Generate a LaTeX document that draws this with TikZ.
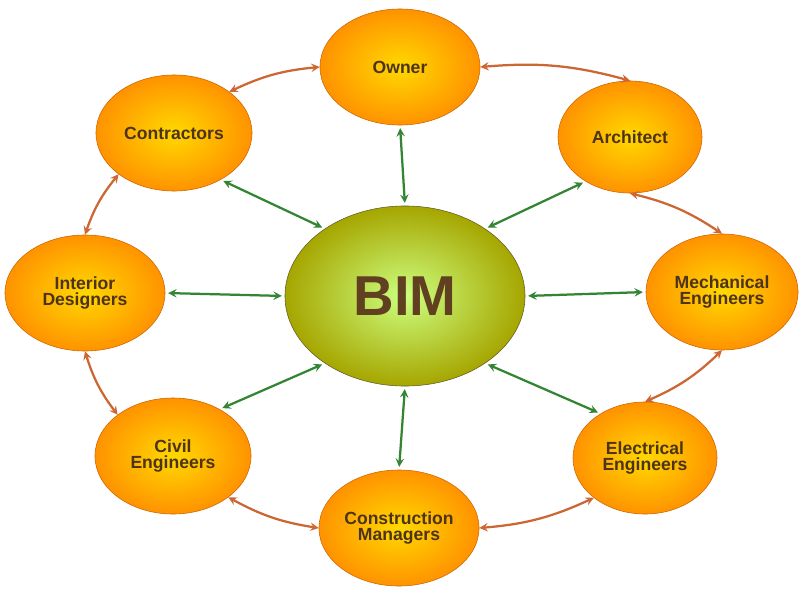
\documentclass[tikz,border=0pt]{standalone}
\usepackage{fontspec}
\setmainfont{Liberation Sans}
\usetikzlibrary{positioning,shapes,arrows,calc}

\tikzset{
  role/.style={ellipse,shading=radial,inner color=yellow!70!orange,outer color=orange!85!yellow,
    draw=orange!80!black,minimum width=4cm,minimum height=2.9cm,align=center,inner sep=0pt,
    text=brown!40!black,font=\bfseries\fontsize{12.5}{12}\selectfont},
  hub/.style={ellipse,shading=radial,inner color=yellow!60!green!50,outer color=olive!70!yellow,
    draw=olive!60!black,minimum width=6cm,minimum height=4.5cm,
    font=\bfseries\fontsize{40}{40}\selectfont},
  link/.style={<->,>=stealth,line width=1.6pt,green!40!black!80,shorten >=2pt,shorten <=2pt},
  ring/.style={<->,>=stealth,line width=1.6pt,brown!80!red}
}

\begin{document}
\begin{tikzpicture}[x=0.025cm,y=-0.025cm]
\useasboundingbox (0,0) rectangle (800,591);
\fill[white] (0,0) rectangle (800,591);
% centre
\node[hub] (bim) at (405,296) {\textcolor{brown!50!black}{BIM}};
% the ring of roles
\node[role] (owner) at (400,67) {Owner};
\node[role,minimum width=3.6cm,minimum height=2.8cm] (arch) at (630,137) {Architect};
\node[role,minimum width=3.8cm] (mech) at (722,292) {Mechanical\\Engineers};
\node[role,minimum width=3.6cm,minimum height=2.8cm] (elec) at (645,458) {Electrical\\Engineers};
\node[role] (cons) at (399,528) {Construction\\Managers};
\node[role,minimum width=3.9cm] (civil) at (173,456) {Civil\\Engineers};
\node[role] (inter) at (85,293) {Interior\\Designers};
\node[role,minimum width=3.9cm] (contr) at (174,133) {Contractors};
% spokes
\draw[link] (owner.south) -- (bim.north);
\draw[link] (bim.40) -- (arch.225);
\draw[link] (bim.east) -- (mech.west);
\draw[link] (bim.-40) -- (elec.135);
\draw[link] (bim.south) -- (cons.north);
\draw[link] (bim.220) -- (civil.45);
\draw[link] (bim.west) -- (inter.east);
\draw[link] (bim.140) -- (contr.-45);
% outer ring
\draw[ring] (owner.east) to[bend left=10] (arch.north);
\draw[ring] (arch.south) to[bend left=10] (mech.north);
\draw[ring] (mech.south) to[bend left=10] (elec.north);
\draw[ring] (elec.south west) to[bend left=10] (cons.east);
\draw[ring] (cons.west) to[bend left=10] (civil.south east);
\draw[ring] (civil.north west) to[bend left=10] (inter.south);
\draw[ring] (inter.north) to[bend left=10] (contr.south west);
\draw[ring] (contr.north east) to[bend left=10] (owner.west);
\end{tikzpicture}
\end{document}
